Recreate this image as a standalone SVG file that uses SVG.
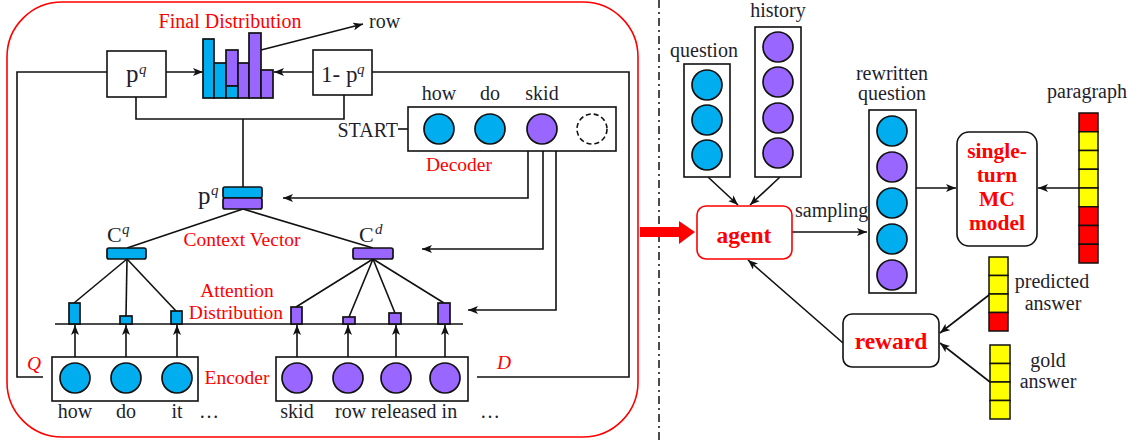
<svg xmlns="http://www.w3.org/2000/svg" width="1137" height="442" viewBox="0 0 1137 442">
<style>
.t{font-family:"Liberation Serif","Times New Roman",serif;font-size:20px;fill:#1f1f2e}
.m{text-anchor:middle}
.rl{fill:#ff0000;font-size:19.5px}
.bd{font-family:"Liberation Serif","Times New Roman",serif;font-weight:bold;font-size:23.5px;fill:#ff0000;text-anchor:middle}
.mc{font-size:21.5px}
.sup{font-style:italic}
.ln{fill:none;stroke:#111;stroke-width:1.6}
.ar{fill:none;stroke:#111;stroke-width:1.6;marker-end:url(#ah)}
.box{fill:#fff;stroke:#111;stroke-width:1.6}
.bl{fill:#00aeef;stroke:#111;stroke-width:1.7}
.pu{fill:#9966ff;stroke:#111;stroke-width:1.7}
.ye{fill:#ffff00;stroke:#111;stroke-width:1.5}
.re{fill:#ff0000;stroke:#111;stroke-width:1.5}
</style>
<defs>
<marker id="ah" viewBox="0 0 10 8" markerWidth="10" markerHeight="8" refX="10" refY="4" orient="auto" markerUnits="userSpaceOnUse">
<path d="M0,0 L10,4 L0,8 L2.5,4 z" fill="#111"/>
</marker>
</defs>
<rect width="1137" height="442" fill="#fff"/>

<!-- left panel frame -->
<g id="panel">
<rect x="7" y="2" width="631" height="435" rx="55" ry="55" fill="none" stroke="#ff0000" stroke-width="1.6"/>
</g>

<!-- divider -->
<line x1="659" y1="0" x2="659" y2="442" stroke="#111" stroke-width="1.5" stroke-dasharray="8,4,2,4"/>
<!-- big red arrow -->
<polygon points="640,227 679,227 679,221 695,232 679,244 679,237 640,237" fill="#ff0000"/>

<!-- connectors -->
<g id="connectors">
<polyline class="ln" points="107,72 17,72 17,377 43,377"/>
<polyline class="ln" points="372,72 629,72 629,377 477,377"/>
<line class="ar" x1="166" y1="72" x2="203" y2="72"/>
<line class="ar" x1="313" y1="72" x2="274" y2="72"/>
<line class="ar" x1="261" y1="50" x2="363" y2="24"/>
<polyline class="ln" points="136,97 136,119 344,119 344,95"/>
<line class="ln" x1="243" y1="119" x2="243" y2="187"/>
<line class="ar" x1="398" y1="129" x2="423" y2="129"/>
<line class="ar" x1="454" y1="129" x2="474" y2="129"/>
<line class="ar" x1="505" y1="129" x2="526" y2="129"/>
<line class="ar" x1="557" y1="129" x2="576" y2="129"/>
<polyline class="ar" points="528,141 528,198 283,198"/>
<polyline class="ar" points="543,144 543,249 422,249"/>
<polyline class="ar" points="556,140 556,310 468,310"/>
<line class="ln" x1="243" y1="209" x2="127" y2="248"/>
<line class="ln" x1="243" y1="209" x2="373" y2="248"/>
<line class="ln" x1="127" y1="259" x2="74" y2="303"/>
<line class="ln" x1="127" y1="259" x2="126" y2="316"/>
<line class="ln" x1="127" y1="259" x2="176" y2="311"/>
<line class="ln" x1="373" y1="259" x2="296" y2="307"/>
<line class="ln" x1="373" y1="259" x2="349" y2="317"/>
<line class="ln" x1="373" y1="259" x2="395" y2="313"/>
<line class="ln" x1="373" y1="259" x2="444" y2="303"/>
<line class="ln" x1="55" y1="324" x2="463" y2="324"/>
<line class="ar" x1="75" y1="363" x2="75" y2="325"/>
<line class="ar" x1="126" y1="363" x2="126" y2="325"/>
<line class="ar" x1="177" y1="363" x2="177" y2="325"/>
<line class="ar" x1="297" y1="363" x2="297" y2="325"/>
<line class="ar" x1="348" y1="363" x2="348" y2="325"/>
<line class="ar" x1="396" y1="363" x2="396" y2="325"/>
<line class="ar" x1="445" y1="363" x2="445" y2="325"/>
<line class="ar" x1="114" y1="369" x2="88" y2="369"/>
<line class="ar" x1="88" y1="387" x2="114" y2="387"/>
<line class="ar" x1="165" y1="369" x2="139" y2="369"/>
<line class="ar" x1="139" y1="387" x2="165" y2="387"/>
<line class="ar" x1="336" y1="369" x2="310" y2="369"/>
<line class="ar" x1="310" y1="387" x2="336" y2="387"/>
<line class="ar" x1="384" y1="369" x2="361" y2="369"/>
<line class="ar" x1="361" y1="387" x2="384" y2="387"/>
<line class="ar" x1="433" y1="369" x2="409" y2="369"/>
<line class="ar" x1="409" y1="387" x2="433" y2="387"/>
<line class="ar" x1="708" y1="177" x2="738" y2="205"/>
<line class="ar" x1="780" y1="177" x2="750" y2="205"/>
<line class="ar" x1="792" y1="232" x2="867" y2="232"/>
<line class="ar" x1="916" y1="188" x2="956" y2="188"/>
<line class="ar" x1="1079" y1="188" x2="1038" y2="188"/>
<line class="ar" x1="989" y1="295" x2="940" y2="333"/>
<line class="ar" x1="990" y1="382" x2="940" y2="343"/>
<line class="ar" x1="843" y1="343" x2="748" y2="260"/>
</g>

<g id="final-dist">
<text class="t m rl" x="230" y="28" style="font-size:20px">Final Distribution</text>
<rect class="bl" x="203" y="39" width="11" height="59"/>
<rect class="bl" x="214" y="63" width="12" height="35"/>
<rect class="pu" x="226" y="50" width="12" height="36"/>
<rect class="bl" x="226" y="86" width="12" height="12"/>
<rect class="pu" x="238" y="63" width="11" height="35"/>
<rect class="pu" x="249" y="33" width="12" height="65"/>
<rect class="pu" x="261" y="70" width="12" height="28"/>
<text class="t" x="369" y="28">row</text>
</g>

<g id="pq-box">
<rect class="box" x="107" y="51" width="59" height="46"/>
<text class="t" x="126" y="82" style="font-size:25px">p</text>
<text class="t sup" x="139" y="74" style="font-size:15px">q</text>
</g>

<g id="one-minus-pq">
<rect class="box" x="313" y="50" width="59" height="45"/>
<text class="t" x="321" y="82" style="font-size:23px">1- p</text>
<text class="t sup" x="357" y="74" style="font-size:15px">q</text>
</g>

<g id="decoder">
<rect class="box" x="408" y="107" width="208" height="44" fill="none"/>
<text class="t" x="398" y="137" text-anchor="end">START</text>
<circle class="bl" cx="439" cy="129" r="15"/>
<circle class="bl" cx="490" cy="129" r="15"/>
<circle class="pu" cx="542" cy="129" r="15"/>
<circle cx="592" cy="129" r="15" fill="#fff" stroke="#111" stroke-width="1.6" stroke-dasharray="5,3"/>
<text class="t m" x="439" y="100">how</text>
<text class="t m" x="490" y="100">do</text>
<text class="t m" x="542" y="100">skid</text>
<text class="t m rl" x="459" y="171">Decoder</text>
</g>

<g id="pq-vector">
<rect class="bl" x="223" y="187" width="39" height="11" rx="2"/>
<rect class="pu" x="223" y="198" width="39" height="11" rx="2"/>
<text class="t" x="198" y="204" style="font-size:25px">p</text>
<text class="t sup" x="211" y="195" style="font-size:15px">q</text>
</g>

<g id="context">
<rect class="bl" x="107" y="248" width="39" height="11" rx="2"/>
<text class="t" x="107" y="242" style="font-size:22px">C</text>
<text class="t sup" x="122" y="234" style="font-size:15px">q</text>
<rect class="pu" x="353" y="248" width="40" height="11" rx="2"/>
<text class="t" x="359" y="242" style="font-size:22px">C</text>
<text class="t sup" x="375" y="234" style="font-size:15px">d</text>
<text class="t m rl" x="242" y="246">Context Vector</text>
</g>

<g id="attention">
<rect class="bl" x="69" y="303" width="11" height="21"/>
<rect class="bl" x="120" y="316" width="12" height="8"/>
<rect class="bl" x="171" y="311" width="11" height="13"/>
<rect class="pu" x="291" y="307" width="11" height="17"/>
<rect class="pu" x="343" y="317" width="12" height="7"/>
<rect class="pu" x="389" y="313" width="12" height="11"/>
<rect class="pu" x="438" y="303" width="12" height="21"/>
<text class="t m rl" x="237" y="297">Attention</text>
<text class="t m rl" x="236" y="319">Distribution</text>
</g>

<g id="encoder-q">
<rect class="box" x="52" y="357" width="146" height="44" fill="none"/>
<circle class="bl" cx="75" cy="378" r="15"/>
<circle class="bl" cx="126" cy="378" r="15"/>
<circle class="bl" cx="177" cy="378" r="15"/>
<text class="t m" x="75" y="418">how</text>
<text class="t m" x="126" y="418">do</text>
<text class="t m" x="177" y="418">it</text>
<text class="t m" x="209" y="418">…</text>
<text class="t m rl" x="237" y="384">Encoder</text>
<text class="t rl sup" x="27" y="370">Q</text>
</g>

<g id="encoder-d">
<rect class="box" x="276" y="357" width="192" height="44" fill="none"/>
<circle class="pu" cx="297" cy="378" r="15"/>
<circle class="pu" cx="348" cy="378" r="15"/>
<circle class="pu" cx="396" cy="378" r="15"/>
<circle class="pu" cx="445" cy="378" r="15"/>
<text class="t m" x="297" y="418">skid</text>
<text class="t" x="335" y="418">row released in</text>
<text class="t m" x="490" y="418">…</text>
<text class="t rl sup" x="497" y="369">D</text>
</g>

<g id="question">
<text class="t m" x="704" y="57">question</text>
<rect class="box" x="684" y="64" width="46" height="113"/>
<circle class="bl" cx="707" cy="85" r="15"/>
<circle class="bl" cx="707" cy="120" r="15"/>
<circle class="bl" cx="707" cy="155" r="15"/>
</g>

<g id="history">
<text class="t m" x="778" y="17">history</text>
<rect class="box" x="755" y="27" width="46" height="150"/>
<circle class="pu" cx="778" cy="47" r="15"/>
<circle class="pu" cx="778" cy="82" r="15"/>
<circle class="pu" cx="778" cy="118" r="15"/>
<circle class="pu" cx="778" cy="153" r="15"/>
</g>

<g id="agent">
<rect x="697" y="206" width="95" height="53" rx="9" fill="#fff" stroke="#ff0000" stroke-width="1.6"/>
<text class="bd" x="744" y="243">agent</text>
<text class="t" x="795" y="217">sampling</text>
</g>

<g id="rewritten">
<text class="t m" x="892" y="80">rewritten</text>
<text class="t m" x="892" y="100">question</text>
<rect class="box" x="869" y="110" width="47" height="183"/>
<circle class="bl" cx="892" cy="131" r="15"/>
<circle class="pu" cx="892" cy="167" r="15"/>
<circle class="bl" cx="892" cy="203" r="15"/>
<circle class="bl" cx="892" cy="239" r="15"/>
<circle class="pu" cx="892" cy="275" r="15"/>
</g>

<g id="mc-model">
<rect class="box" x="957" y="132" width="80" height="114" rx="12"/>
<text class="bd mc" x="997" y="158">single-</text>
<text class="bd mc" x="997" y="182">turn</text>
<text class="bd mc" x="997" y="206">MC</text>
<text class="bd mc" x="997" y="230">model</text>
</g>

<g id="paragraph">
<text class="t m" x="1087" y="98">paragraph</text>
<rect class="re" x="1079" y="113" width="19" height="18.75"/>
<rect class="ye" x="1079" y="131.75" width="19" height="18.75"/>
<rect class="ye" x="1079" y="150.5" width="19" height="18.75"/>
<rect class="ye" x="1079" y="169.25" width="19" height="18.75"/>
<rect class="ye" x="1079" y="188" width="19" height="18.75"/>
<rect class="re" x="1079" y="206.75" width="19" height="18.75"/>
<rect class="re" x="1079" y="225.5" width="19" height="18.75"/>
<rect class="re" x="1079" y="244.25" width="19" height="18.75"/>
</g>

<g id="predicted">
<rect class="ye" x="989" y="257" width="19" height="18.5"/>
<rect class="ye" x="989" y="275.5" width="19" height="18.5"/>
<rect class="ye" x="989" y="294" width="19" height="18.5"/>
<rect class="re" x="989" y="312.5" width="19" height="18.5"/>
<text class="t m" x="1052" y="288">predicted</text>
<text class="t m" x="1053" y="310">answer</text>
</g>

<g id="gold">
<rect class="ye" x="990" y="345" width="20" height="18.5"/>
<rect class="ye" x="990" y="363.5" width="20" height="18.5"/>
<rect class="ye" x="990" y="382" width="20" height="18.5"/>
<rect class="ye" x="990" y="400.5" width="20" height="18.5"/>
<text class="t m" x="1048" y="367">gold</text>
<text class="t m" x="1048" y="388">answer</text>
</g>

<g id="reward">
<rect class="box" x="843" y="314" width="96" height="53" rx="9"/>
<text class="bd" x="891" y="349">reward</text>
</g>
</svg>
